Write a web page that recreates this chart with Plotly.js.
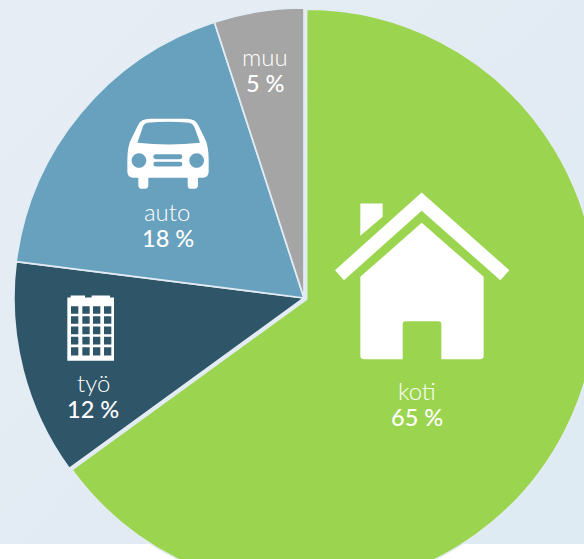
<!DOCTYPE html>
<html>
<head>
<meta charset="utf-8">
<script src="https://cdn.plot.ly/plotly-3.0.0.min.js"></script>
<style>
html,body{margin:0;padding:0;width:584px;height:559px;overflow:hidden;background:#fff;}
#bg{position:absolute;left:0;top:0;width:584px;height:544px;background:linear-gradient(135deg,#e7edf5 0%,#e2ebf3 55%,#deebf3 100%);}
#chart{position:absolute;left:11px;top:4.8px;width:586px;height:586px;}
</style>
</head>
<body>
<div id="bg"></div>
<div id="chart"></div>
<script>
const categories = ['koti','työ','auto','muu'];
const shares = [65,12,18,5];
const shareLabels = ['65 %','12 %','18 %','5 %'];
const sliceColors = ['#9BD44F','#2F5568','#68A1BD','#A5A5A5'];
const pullAmounts = [0.01,0,0,0];
const nameLabelCentres = [[417,390],[93,382],[167,211],[265,56]];
const shareLabelCentres = [[417,417],[93,409],[168,238],[265,83]];

const W=586,H=586,LEFT=11,TOP=4.8;
function conv(path,ox,oy,s){
  return path.replace(/(-?[\d.]+)[ ,](-?[\d.]+)/g,(m,a,b)=>{
    const px=ox+parseFloat(a)/s, py=oy+parseFloat(b)/s;
    return ((px-LEFT)/W).toFixed(5)+','+(1-(py-TOP)/H).toFixed(5);
  });
}
function rrect(x0,y0,x1,y1,r){
  return `M${x0+r},${y0} L${x1-r},${y0} Q${x1},${y0} ${x1},${y0+r} L${x1},${y1-r} Q${x1},${y1} ${x1-r},${y1} L${x0+r},${y1} Q${x0},${y1} ${x0},${y1-r} L${x0},${y0+r} Q${x0},${y0} ${x0+r},${y0} Z`;
}
function circ(cx,cy,r){
  const k=r*0.5523;
  return `M${cx-r},${cy} C${cx-r},${cy-k} ${cx-k},${cy-r} ${cx},${cy-r} C${cx+k},${cy-r} ${cx+r},${cy-k} ${cx+r},${cy} C${cx+r},${cy+k} ${cx+k},${cy+r} ${cx},${cy+r} C${cx-k},${cy+r} ${cx-r},${cy+k} ${cx-r},${cy} Z`;
}
function iconShape(path){
  return {type:'path',xref:'paper',yref:'paper',path:path,fillcolor:'#ffffff',fillrule:'evenodd',line:{width:0},layer:'above'};
}
// House, in zoomed-crop units (scale 3, origin 320,180)
const houseRoof='M305,37 L568,270 L541,300 L305,92 L72,300 L45,270 Z';
const houseChimney='M121,70 L188,70 L188,110 L121,167 Z';
const houseBody='M305,128 L491,290 L491,527 Q491,537 481,537 L364,537 L364,433 Q364,423 354,423 L258,423 Q248,423 248,433 L248,537 L131,537 Q121,537 121,527 L121,290 Z';
// Car, scale 3, origin 110,100
let car='M120,56 L230,56 Q255,56 265,75 L283,112 Q296,135 296,180 L296,215 Q296,232 278,233 L264,233 L264,255 Q264,266 250,266 L244,266 Q233,266 233,255 L233,233 L115,233 L115,255 Q115,266 102,266 L97,266 Q85,266 85,255 L85,233 L70,233 Q52,232 52,215 L52,180 Q52,135 66,112 L84,75 Q93,56 120,56 Z ';
car+='M112,68 Q175,62 238,68 Q250,70 256,88 L270,128 Q175,138 82,128 L96,88 Q100,70 112,68 Z ';
car+=circ(87,181,22)+' '+circ(260,181,22)+' ';
car+=rrect(130,162,217,177,7)+' '+rrect(130,185,217,199,7);
// Office block, scale 3, origin 50,280
let block='M52,242 L52,52 L62,52 L62,46 L105,46 L105,52 L125,52 L125,46 L180,46 L180,52 L192,52 L192,242 Z ';
[[63,85],[97,119],[129,151],[162,184]].forEach(c=>{
  [[78,101],[108,131],[139,162],[170,193],[201,226]].forEach(r=>{
    block+=`M${c[0]},${r[0]} L${c[1]},${r[0]} L${c[1]},${r[1]} L${c[0]},${r[1]} Z `;
  });
});
const shapes=[
  iconShape(conv(houseRoof,320,180,3)),
  iconShape(conv(houseChimney,320,180,3)),
  iconShape(conv(houseBody,320,180,3)),
  iconShape(conv(car,110,100,3)),
  iconShape(conv(block,50,280,3))
];
function ann(text,c,weight,size){
  return {text:text,xref:'paper',yref:'paper',x:(c[0]-LEFT)/W,y:1-(c[1]-TOP)/H,xanchor:'center',yanchor:'middle',showarrow:false,
    font:{family:'Lato, "Open Sans", sans-serif',size:size,color:'#ffffff',weight:weight}};
}
const annotations=[];
categories.forEach((c,i)=>{
  annotations.push(ann(c,nameLabelCentres[i],300,24));
  annotations.push(ann(shareLabels[i],shareLabelCentres[i],500,23.5));
});
Plotly.newPlot('chart',[{
  type:'pie',labels:categories,values:shares,sort:false,direction:'clockwise',rotation:0,
  pull:pullAmounts,textinfo:'none',hoverinfo:'label+percent',
  marker:{colors:sliceColors,line:{color:'#e3ecf4',width:1.7}},
  domain:{x:[0,1],y:[0,1]}
}],{
  width:W,height:H,margin:{l:0,r:0,t:0,b:0,pad:0},showlegend:false,
  paper_bgcolor:'rgba(0,0,0,0)',plot_bgcolor:'rgba(0,0,0,0)',
  shapes:shapes,annotations:annotations
},{displayModeBar:false,staticPlot:true});
</script>
</body>
</html>
